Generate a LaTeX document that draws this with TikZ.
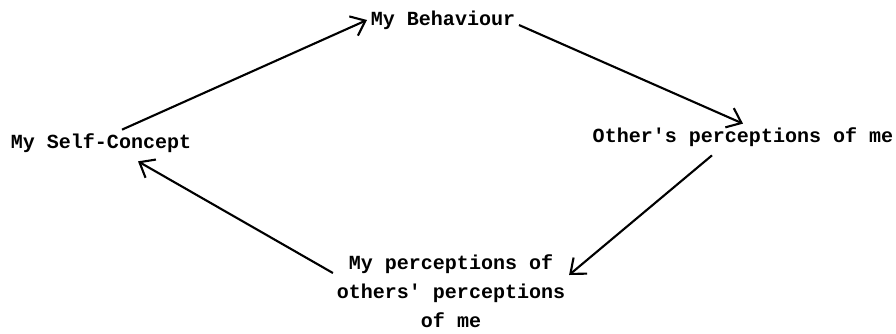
\documentclass[tikz,border=0pt]{standalone}
\usepackage{fontspec}
\setmonofont{Liberation Mono}
\usepackage{tikz}
\usetikzlibrary{arrows, arrows.meta, calc, positioning}

\begin{document}
\begin{tikzpicture}[font=\ttfamily\bfseries\fontsize{11.4}{16.5}\selectfont]
		\useasboundingbox (0,0) rectangle (17.92,-6.66);

		\node(self)  [inner sep=2pt] at (2.02,-2.86)  {My Self-Concept};
		\node(behav)  [inner sep=2pt] at (8.86,-0.40)  {My Behaviour};
		\node(others)  [inner sep=2pt] at (14.86,-2.74)  {Other's perceptions of me};
		\node(mine)  [inner sep=2pt, align=center] at (9.02,-5.82)  {My perceptions of\\others' perceptions\\of me};

		%\draw[->, >=stealth',line width=1.2pt] (self) -- (behav) ;
		\draw[->, >={Straight Barb[length=2.6mm,width=4.2mm]},line width=1.2pt] ([xshift=0.42cm]self.north) -- (behav.west) ;
		\draw[->, >={Straight Barb[length=2.6mm,width=4.2mm]},line width=1.2pt] ([yshift=-0.1cm]behav.east) -- (others.north) ;
		\draw[->, >={Straight Barb[length=2.6mm,width=4.2mm]},line width=1.2pt] ([xshift=-0.62cm,yshift=-0.1cm]others.south) -- ([yshift=0.32cm]mine.east) ;
		\draw[->, >={Straight Barb[length=2.6mm,width=4.2mm]},line width=1.2pt] ([yshift=0.36cm]mine.west) -- ([xshift=0.74cm,yshift=-0.1cm]self.south) ;

		\end{tikzpicture}
\end{document}
